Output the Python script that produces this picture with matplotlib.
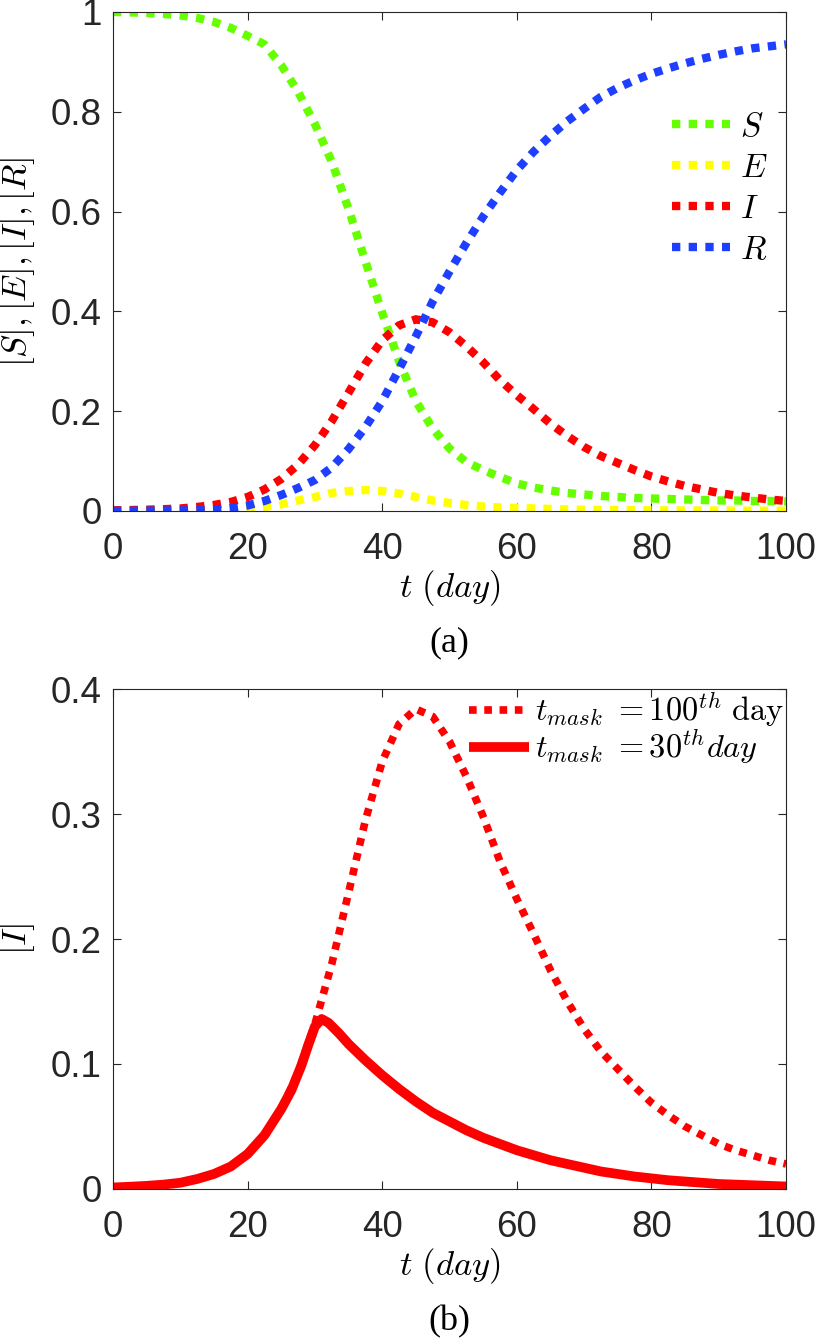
import matplotlib
matplotlib.use("Agg")
import matplotlib.pyplot as plt
from matplotlib.ticker import FuncFormatter

plt.rcParams['font.family'] = ['Liberation Sans', 'DejaVu Sans']
plt.rcParams['mathtext.fontset'] = 'cm'

# time grid (days)
t = [0, 2.5, 5, 7.5, 10, 12.5, 15, 17.5, 20, 22.5, 25, 27.5, 30, 32.5, 35, 37.5,
     40, 42.5, 45, 47.5, 50, 52.5, 55, 57.5, 60, 62.5, 65, 67.5, 70, 72.5, 75,
     77.5, 80, 82.5, 85, 87.5, 90, 92.5, 95, 97.5, 100]

S = [1.000, 0.999, 0.998, 0.996, 0.993, 0.988, 0.980, 0.968, 0.952, 0.935, 0.893,
     0.840, 0.775, 0.700, 0.605, 0.500, 0.397, 0.300, 0.220, 0.165, 0.125, 0.098,
     0.082, 0.068, 0.055, 0.047, 0.041, 0.036, 0.033, 0.030, 0.028, 0.026, 0.025,
     0.024, 0.023, 0.022, 0.021, 0.021, 0.020, 0.020, 0.019]

E = [0.000, 0.0003, 0.0005, 0.001, 0.0015, 0.002, 0.003, 0.004, 0.006, 0.008,
     0.013, 0.021, 0.028, 0.036, 0.040, 0.042, 0.040, 0.035, 0.028, 0.021, 0.016,
     0.012, 0.009, 0.007, 0.006, 0.005, 0.004, 0.003, 0.0025, 0.002, 0.0018,
     0.0015, 0.0012, 0.001, 0.0009, 0.0008, 0.0007, 0.0006, 0.0005, 0.0005, 0.0004]

I = [0.0012, 0.0018, 0.0025, 0.0035, 0.005, 0.008, 0.012, 0.018, 0.028, 0.043,
     0.064, 0.093, 0.132, 0.180, 0.237, 0.295, 0.342, 0.372, 0.384, 0.378, 0.358,
     0.330, 0.298, 0.262, 0.232, 0.204, 0.175, 0.150, 0.128, 0.110, 0.096, 0.082,
     0.069, 0.059, 0.050, 0.043, 0.036, 0.031, 0.027, 0.023, 0.020]

R = [0.000, 0.0003, 0.0005, 0.0008, 0.001, 0.0015, 0.003, 0.006, 0.011, 0.020,
     0.032, 0.046, 0.062, 0.087, 0.124, 0.168, 0.220, 0.284, 0.350, 0.420, 0.480,
     0.537, 0.590, 0.638, 0.683, 0.720, 0.752, 0.781, 0.806, 0.830, 0.848, 0.863,
     0.876, 0.887, 0.897, 0.906, 0.914, 0.921, 0.927, 0.931, 0.935]

# infected fraction when masks start on day 30 (finer steps around the kink)
t_mask30 = [0, 2.5, 5, 7.5, 10, 12.5, 15, 17.5, 20, 22.5, 25, 26.5, 28, 29,
            30, 31, 32, 33.5, 35, 37.5, 40, 42.5, 45, 47.5, 50, 52.5, 55, 57.5,
            60, 62.5, 65, 67.5, 70, 72.5, 75, 77.5, 80, 82.5, 85, 87.5, 90,
            92.5, 95, 97.5, 100]
I_mask30 = [0.0012, 0.0018, 0.0025, 0.0035, 0.005, 0.008, 0.012, 0.018, 0.028,
            0.043, 0.064, 0.079, 0.099, 0.115, 0.130, 0.136, 0.133, 0.125,
            0.116, 0.103, 0.091, 0.080, 0.070, 0.061, 0.054, 0.047, 0.041,
            0.036, 0.031, 0.027, 0.023, 0.020, 0.017, 0.014, 0.012, 0.010,
            0.0085, 0.007, 0.006, 0.005, 0.004, 0.0035, 0.003, 0.0025, 0.002]

dots = (0, (1, 1))
tick_color = '#262626'

fig = plt.figure(figsize=(8.16, 13.4), dpi=100)
ax1 = fig.add_axes([0.1385, 0.6187, 0.8248, 0.3724])
ax2 = fig.add_axes([0.1385, 0.1127, 0.8248, 0.3731])

# (a) SEIR curves
ax1.plot(t, S, color='#66ff00', lw=6, ls=dots, label='$S$')
ax1.plot(t, E, color='#ffff00', lw=6, ls=dots, label='$E$')
ax1.plot(t, I, color='#ff0000', lw=6, ls=dots, label='$I$')
ax1.plot(t, R, color='#1f3fff', lw=6, ls=dots, label='$R$')
ax1.set_ylim(0, 1)
ax1.set_yticks([0, 0.2, 0.4, 0.6, 0.8, 1])
ax1.set_ylabel('$[S],[E],[I],[R]$', fontsize=25)
ax1.legend(loc='upper left', bbox_to_anchor=(0.83, 0.80), frameon=False,
           fontsize=24, handlelength=1.74, handletextpad=0.3, labelspacing=0.3,
           borderpad=0, borderaxespad=0)

# (b) infected with / without masks
ax2.plot(t, I, color='#ff0000', lw=5.5, ls=dots,
         label=r'$t_{mask}\ {=}100^{th}\ \mathrm{day}$')
ax2.plot(t_mask30, I_mask30, color='#ff0000', lw=7, solid_capstyle='butt',
         solid_joinstyle='round', label=r'$t_{mask}\ {=}30^{th}day$')
ax2.set_ylim(0, 0.4)
ax2.set_yticks([0, 0.1, 0.2, 0.3, 0.4])
ax2.set_ylabel('$[I]$', fontsize=25)
ax2.legend(loc='upper right', bbox_to_anchor=(1.0, 1.0), frameon=False,
           fontsize=23.3, handlelength=1.85, handletextpad=0.2,
           labelspacing=-0.05, borderpad=0, borderaxespad=0.05)

fmt = FuncFormatter(lambda v, p: ('%g' % round(v, 2)))
for ax in (ax1, ax2):
    ax.set_xlim(0, 100)
    ax.set_xticks([0, 20, 40, 60, 80, 100])
    ax.yaxis.set_major_formatter(fmt)
    ax.tick_params(direction='in', top=True, right=True, length=6, width=0.8,
                   labelsize=26.5, colors=tick_color)
    ax.tick_params(axis='y', pad=8)
    ax.tick_params(axis='x', pad=15)
    for sp in ax.spines.values():
        sp.set_color(tick_color)
        sp.set_linewidth(0.8)
    ax.set_xlabel(r'$t\ (day)$', fontsize=25, labelpad=1)
    ax.yaxis.set_label_coords(-0.113, 0.5)

fig.text(0.551, 1 - 643 / 1340, '(a)', ha='center', va='center',
         fontsize=26, family='Liberation Serif')
fig.text(0.551, 1 - 1322 / 1340, '(b)', ha='center', va='center',
         fontsize=26, family='Liberation Serif')

fig.savefig('out.png', dpi=100)
